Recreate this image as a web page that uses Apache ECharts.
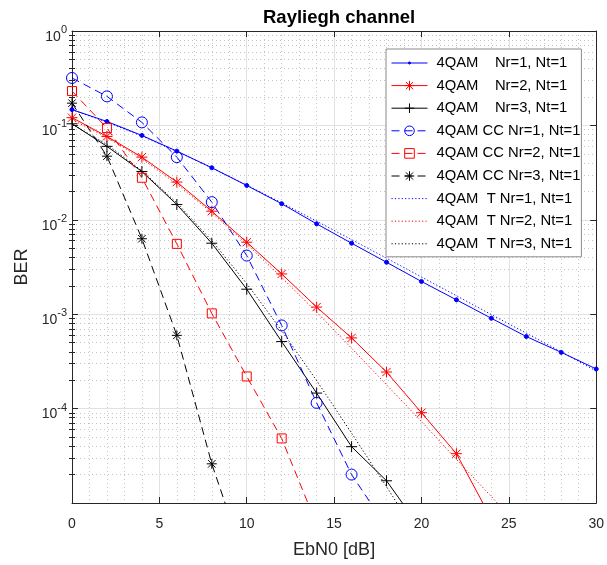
<!DOCTYPE html>
<html>
<head>
<meta charset="utf-8">
<script src="https://cdn.jsdelivr.net/npm/echarts@6/dist/echarts.min.js"></script>
<style>
html,body{margin:0;padding:0;background:#fff;}
#c{width:607px;height:565px;}
</style>
</head>
<body>
<div id="c"></div>
<script>
// ---------- data ----------
const ebn0 = [0, 2, 4, 6, 8, 10, 12, 14, 16, 18, 20, 22, 24, 26, 28, 30];

const berNr1 = [0.147, 0.110, 0.0783, 0.0534, 0.0356, 0.0231, 0.0148, 0.00906, 0.00565, 0.00355, 0.00222, 0.00142, 0.000905, 0.000580, 0.000394, 0.000263];
const berNr2 = [0.1207, 0.0764, 0.0461, 0.0251, 0.01234, 0.00579, 0.00267, 0.00119, 0.000561, 0.000244, 0.0000905, 0.0000333, 0.0000068];
const berNr3 = [0.104, 0.060, 0.0325, 0.0145, 0.00565, 0.00184, 0.000513, 0.000146, 0.0000395, 0.0000172, 0.0000052];

const ccNr1 = [0.318, 0.203, 0.1076, 0.0461, 0.01538, 0.00418, 0.00076, 0.000115, 0.0000200, 0.0000056];
const ccNr2 = [0.231, 0.0936, 0.0279, 0.00556, 0.00102, 0.000219, 0.0000483, 0.0000059];
const ccNr3 = [0.172, 0.0472, 0.0063, 0.000597, 0.0000260, 0.0000021];

const thNr1 = [0.146, 0.1085, 0.0771, 0.0530, 0.0355, 0.0233, 0.0151, 0.00967, 0.00617, 0.00392, 0.00248, 0.00157, 0.00099, 0.00063, 0.00040, 0.00025];
const thNr2 = [0.115, 0.0748, 0.0443, 0.0239, 0.0119, 0.00553, 0.00245, 0.00105, 0.000436, 0.000179, 0.000073, 0.000029, 0.0000117, 0.0000046];
const thNr3 = [0.1035, 0.0627, 0.0331, 0.0151, 0.00602, 0.00211, 0.00067, 0.000198, 0.000055, 0.0000149, 0.0000039];

const seriesNames = [
  '4QAM    Nr=1, Nt=1',
  '4QAM    Nr=2, Nt=1',
  '4QAM    Nr=3, Nt=1',
  '4QAM CC Nr=1, Nt=1',
  '4QAM CC Nr=2, Nt=1',
  '4QAM CC Nr=3, Nt=1',
  '4QAM  T Nr=1, Nt=1',
  '4QAM  T Nr=2, Nt=1',
  '4QAM  T Nr=3, Nt=1'
];

const xTickValues = [0, 5, 10, 15, 20, 25, 30];
const yMajorTicks = [1e-5, 1e-4, 1e-3, 1e-2, 1e-1, 1];
const yLabelTicks = [1e-4, 1e-3, 1e-2, 1e-1, 1];
const titleText = 'Rayliegh channel';
const xName = 'EbN0 [dB]';
const yName = 'BER';

// ---------- styling ----------
const FONT = "'Liberation Sans', Arial, Helvetica, sans-serif";
const AX = '#262626';
const BLUE = '#0000ff', RED = '#ff0000', BLACK = '#000000';

const yMinorTicks = [];
yMajorTicks.slice(0, -1).forEach(d => { for (let m = 2; m <= 9; m++) yMinorTicks.push(+(d * m).toPrecision(3)); });

const SYM_DOT = 'path://M-10,-10M10,10M2.3,0L1.63,1.63L0,2.3L-1.63,1.63L-2.3,0L-1.63,-1.63L0,-2.3L1.63,-1.63Z';
const SYM_STAR = 'path://M0,-10L0,10M-10,0L10,0M-7.5,-7.5L7.5,7.5M-7.5,7.5L7.5,-7.5';
const SYM_PLUS = 'path://M0,-10L0,10M-10,0L10,0';
const SYM_NONE = 'path://M-10,-10M10,10';

const pts = (xs, ys) => ys.map((y, i) => [xs[i], y]);

function mk(name, ys, color, lineType, symbol, size, fill) {
  const hasSym = !!symbol;
  return {
    name: name,
    type: 'line',
    xAxisIndex: 0,
    yAxisIndex: 0,
    data: pts(ebn0, ys),
    symbol: hasSym ? symbol : SYM_NONE,
    showSymbol: hasSym,
    symbolSize: hasSym ? size : 1,
    clip: true,
    silent: true,
    animation: false,
    itemStyle: hasSym ? { color: fill, borderColor: color, borderWidth: 1 }
                      : { color: 'rgba(0,0,0,0)', borderColor: 'rgba(0,0,0,0)', borderWidth: 0 },
    lineStyle: { color: color, width: 1, type: lineType },
    emphasis: { disabled: true }
  };
}

const DASH = [8, 5];
const DOT = [1.2, 2.2];

const series = [
  mk(seriesNames[0], berNr1, BLUE, 'solid', SYM_DOT, 18, BLUE),
  mk(seriesNames[1], berNr2, RED, 'solid', SYM_STAR, 11, 'none'),
  mk(seriesNames[2], berNr3, BLACK, 'solid', SYM_PLUS, 11, 'none'),
  mk(seriesNames[3], ccNr1, BLUE, DASH, 'circle', 11, 'rgba(0,0,0,0)'),
  mk(seriesNames[4], ccNr2, RED, DASH, 'rect', 9, 'rgba(0,0,0,0)'),
  mk(seriesNames[5], ccNr3, BLACK, DASH, SYM_STAR, 10, 'none'),
  mk(seriesNames[6], thNr1, BLUE, DOT, null),
  mk(seriesNames[7], thNr2, RED, DOT, null),
  mk(seriesNames[8], thNr3, BLACK, DOT, null)
];

const yBase = { type: 'log', logBase: 10, min: 1e-5, max: 1, gridIndex: 0 };
const xBase = { type: 'value', min: 0, max: 30, interval: 5, gridIndex: 0 };

const option = {
  animation: false,
  backgroundColor: '#ffffff',
  textStyle: { fontFamily: FONT },
  title: {
    text: titleText,
    left: 258,
    top: 3,
    textStyle: { fontFamily: FONT, fontSize: 18.5, fontWeight: 'bold', color: '#000' }
  },
  grid: { left: 72, right: 9, top: 31, bottom: 62, containLabel: false },
  legend: {
    orient: 'vertical',
    left: 386,
    top: 49,
    padding: [6, 1, 5, 5],
    itemWidth: 36,
    itemHeight: 12,
    itemGap: 6.6,
    selectedMode: false,
    backgroundColor: '#ffffff',
    borderColor: '#8a8a8a',
    borderWidth: 1,
    borderRadius: 0,
    lineStyle: { width: 1 },
    itemStyle: { borderWidth: 1 },
    textStyle: { fontFamily: FONT, fontSize: 14.8, color: '#000', lineHeight: 16, padding: [0, 0, 0, 4] },
    data: seriesNames
  },
  xAxis: [
    Object.assign({}, xBase, {
      position: 'bottom',
      name: xName,
      nameLocation: 'middle',
      nameGap: 38,
      nameTextStyle: { fontFamily: FONT, fontSize: 18, color: AX },
      axisLine: { show: true, onZero: false, lineStyle: { color: AX, width: 1 } },
      axisTick: { show: true, inside: true, length: 6, customValues: xTickValues, lineStyle: { color: AX } },
      axisLabel: { show: true, margin: 14, fontFamily: FONT, fontSize: 14, color: AX, customValues: xTickValues },
      splitLine: { show: true, lineStyle: { color: '#e2e2e2', width: 1 } },
      minorTick: { show: false, splitNumber: 5 },
      minorSplitLine: { show: true, lineStyle: { color: '#c4c4c4', width: 1, type: [1, 3] } }
    }),
    Object.assign({}, xBase, {
      position: 'top',
      axisLine: { show: true, onZero: false, lineStyle: { color: AX, width: 1 } },
      axisTick: { show: true, inside: true, length: 6, lineStyle: { color: AX } },
      axisLabel: { show: false },
      splitLine: { show: false }
    })
  ],
  yAxis: [
    Object.assign({}, yBase, {
      position: 'left',
      name: yName,
      nameLocation: 'middle',
      nameGap: 40,
      nameTextStyle: { fontFamily: FONT, fontSize: 18, color: AX },
      axisLine: { show: true, onZero: false, lineStyle: { color: AX, width: 1 } },
      axisTick: { show: true, inside: true, length: 6, customValues: yMajorTicks, lineStyle: { color: AX } },
      axisLabel: {
        show: true,
        margin: 5,
        customValues: yLabelTicks,
        formatter: function (v) {
          const e = Math.round(Math.log10(v));
          return '{b|10}{s|' + e + '}';
        },
        rich: {
          b: { fontFamily: FONT, fontSize: 14, color: AX, padding: [12, 0, 0, 0] },
          s: { fontFamily: FONT, fontSize: 11, color: AX, padding: [0, 0, 2, 0] }
        }
      },
      splitLine: { show: true, lineStyle: { color: '#e2e2e2', width: 1 } }
    }),
    Object.assign({}, yBase, {
      position: 'left',
      axisLine: { show: false },
      axisTick: { show: true, inside: true, length: 3, customValues: yMinorTicks, lineStyle: { color: AX } },
      axisLabel: { show: false },
      splitLine: { show: true, lineStyle: { color: '#c4c4c4', width: 1, type: [1, 3] } }
    }),
    Object.assign({}, yBase, {
      position: 'right',
      axisLine: { show: true, onZero: false, lineStyle: { color: AX, width: 1 } },
      axisTick: { show: true, inside: true, length: 6, customValues: yMajorTicks, lineStyle: { color: AX } },
      axisLabel: { show: false },
      splitLine: { show: false }
    }),
    Object.assign({}, yBase, {
      position: 'right',
      axisLine: { show: false },
      axisTick: { show: true, inside: true, length: 3, customValues: yMinorTicks, lineStyle: { color: AX } },
      axisLabel: { show: false },
      splitLine: { show: false }
    })
  ],
  series: series
};

const chart = echarts.init(document.getElementById('c'), null, { renderer: 'canvas' });
chart.setOption(option);
</script>
</body>
</html>
